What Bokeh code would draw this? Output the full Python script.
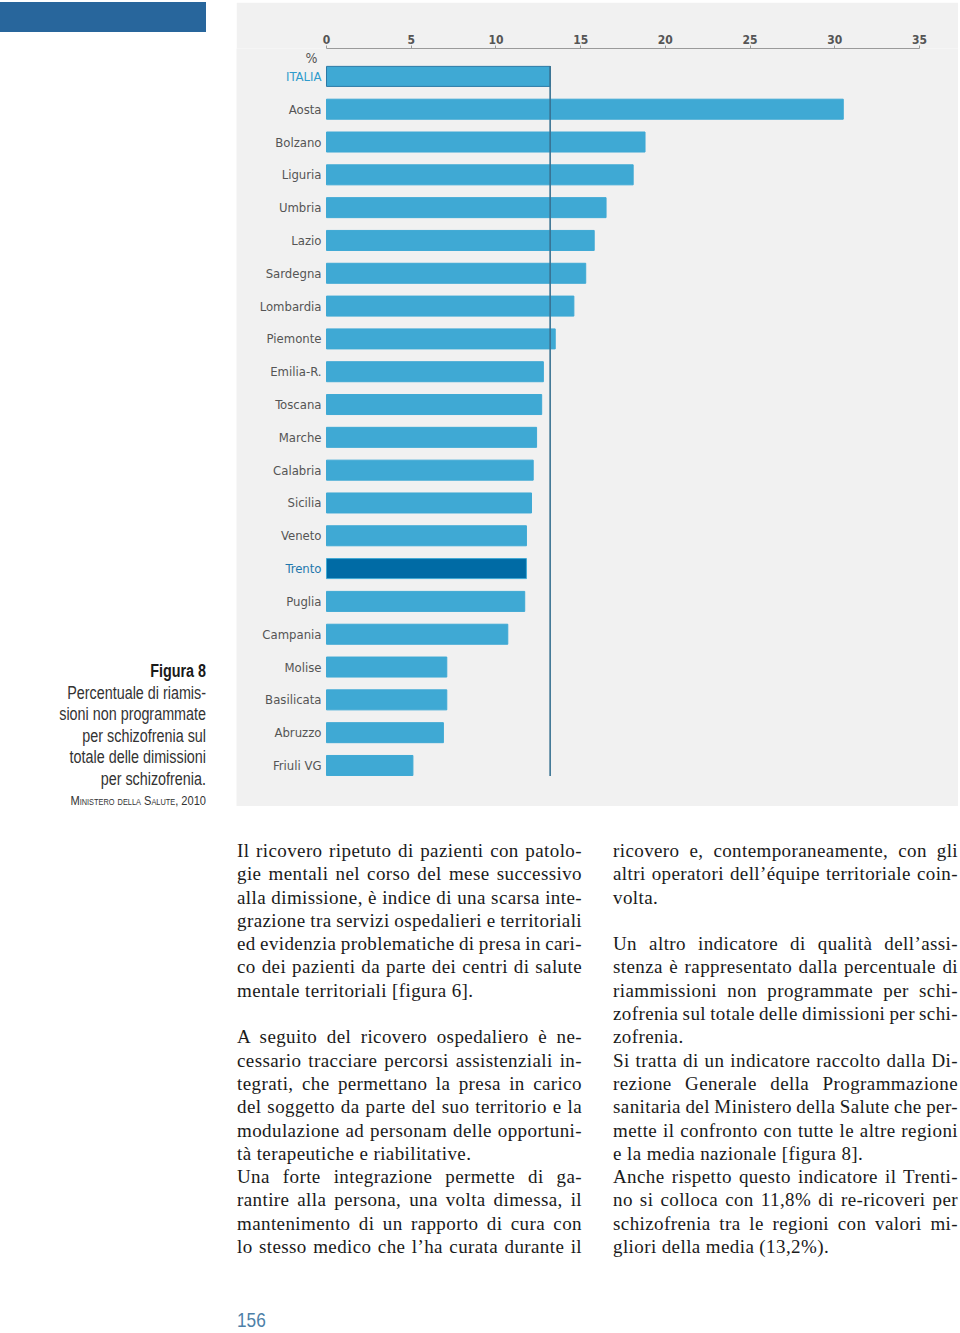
from bokeh.plotting import figure
from bokeh.models import (Range1d, LinearAxis, FixedTicker, Label, Div,
                          ColumnDataSource, GlobalInlineStyleSheet)
from bokeh.layouts import row, column
from bokeh.core.properties import value
from bokeh.embed import file_html
from bokeh.resources import INLINE

# ---------------- data ----------------
regions = ["ITALIA", "Aosta", "Bolzano", "Liguria", "Umbria", "Lazio", "Sardegna",
           "Lombardia", "Piemonte", "Emilia-R.", "Toscana", "Marche", "Calabria",
           "Sicilia", "Veneto", "Trento", "Puglia", "Campania", "Molise",
           "Basilicata", "Abruzzo", "Friuli VG"]
values = [13.2, 30.5, 18.8, 18.1, 16.5, 15.8, 15.3, 14.6, 13.5, 12.8, 12.7, 12.4,
          12.2, 12.1, 11.8, 11.8, 11.7, 10.7, 7.1, 7.1, 6.9, 5.1]
tick_values = [0, 5, 10, 15, 20, 25, 30, 35]
national = "ITALIA"
highlight = "Trento"

caption_title = "Figura 8"
caption_lines = ["Percentuale di riamis-", "sioni non programmate",
                 "per schizofrenia sul", "totale delle dimissioni",
                 "per schizofrenia."]
caption_source = "Ministero della Salute, 2010"
page_number = "156"

left_col = [
    ["Il ricovero ripetuto di pazienti con patolo-",
     "gie mentali nel corso del mese successivo",
     "alla dimissione, è indice di una scarsa inte-",
     "grazione tra servizi ospedalieri e territoriali",
     "ed evidenzia problematiche di presa in cari-",
     "co dei pazienti da parte dei centri di salute",
     "mentale territoriali [figura 6]."],
    None,
    ["A seguito del ricovero ospedaliero è ne-",
     "cessario tracciare percorsi assistenziali in-",
     "tegrati, che permettano la presa in carico",
     "del soggetto da parte del suo territorio e la",
     "modulazione ad personam delle opportuni-",
     "tà terapeutiche e riabilitative."],
    ["Una forte integrazione permette di ga-",
     "rantire alla persona, una volta dimessa, il",
     "mantenimento di un rapporto di cura con",
     "lo stesso medico che l’ha curata durante il "],
]
right_col = [
    ["ricovero e, contemporaneamente, con gli",
     "altri operatori dell’équipe territoriale coin-",
     "volta."],
    None,
    ["Un altro indicatore di qualità dell’assi-",
     "stenza è rappresentato dalla percentuale di",
     "riammissioni non programmate per schi-",
     "zofrenia sul totale delle dimissioni per schi-",
     "zofrenia."],
    ["Si tratta di un indicatore raccolto dalla Di-",
     "rezione Generale della Programmazione",
     "sanitaria del Ministero della Salute che per-",
     "mette il confronto con tutte le altre regioni",
     "e la media nazionale [figura 8]."],
    ["Anche rispetto questo indicatore il Trenti-",
     "no si colloca con 11,8% di re-ricoveri per",
     "schizofrenia tra le regioni con valori mi-",
     "gliori della media (13,2%)."],
]

# ---------------- styles ----------------
COND = "'DejaVu Sans Condensed', 'Liberation Sans Narrow', 'Roboto Condensed', 'Liberation Sans', sans-serif"
PANEL = "#f1f1f1"
BAR = "#3fa9d4"
BAR_HI = "#006ba5"
LABEL = "#555555"

idx = list(range(len(regions)))
italia_val = values[regions.index(national)]
bar_colors = [BAR_HI if r == highlight else BAR for r in regions]
label_colors = ["#2f9bcc" if r == national else ("#1f78ad" if r == highlight else LABEL)
                for r in regions]
line_colors = ["#2b79a6" if r == national else BAR for r in regions]

src = ColumnDataSource(dict(y=idx, v=values, name=regions, c=bar_colors,
                            lc=label_colors, oc=line_colors, zero=[0] * len(idx)))

s = 593 / 35.0
x0 = -90 / s
p = figure(width=722, height=804, output_backend="svg", toolbar_location=None,
           x_range=Range1d(x0, x0 + 722 / s),
           y_range=Range1d(len(regions) - 1 + 1.25, -0.85),
           x_axis_location=None, y_axis_location=None,
           min_border_left=0, min_border_right=0, min_border_bottom=0,
           min_border_top=46, outline_line_color=None,
           background_fill_color=PANEL, border_fill_color=PANEL)
p.grid.visible = False

ax = LinearAxis(ticker=FixedTicker(ticks=tick_values), bounds=(0, 35),
                axis_line_color="#9a9a9a", axis_line_width=1,
                major_tick_line_color="#9a9a9a", major_tick_out=3, major_tick_in=0,
                minor_tick_out=0, minor_tick_in=0,
                major_label_standoff=2,
                major_label_text_font=COND, major_label_text_font_size="12px",
                major_label_text_font_style="bold", major_label_text_color=LABEL)
p.add_layout(ax, "above")

p.hbar(y="y", left="zero", right="v", height=0.61, fill_color="c",
       line_color="oc", line_width=1, source=src)
p.segment(x0=italia_val, y0=-0.32, x1=italia_val, y1=len(regions) - 1 + 0.32,
          line_color="#3a7392", line_width=1.6)
p.text(x="zero", y="y", text="name", x_offset=-5, text_align="right",
       text_baseline="middle", text_font=value(COND), text_font_size="13px",
       text_color="lc", source=src)
p.add_layout(Label(x=0, y=-0.85, x_offset=-15, y_offset=-1, text="%",
                   text_align="center", text_baseline="top",
                   text_font="DejaVu Sans Condensed", text_font_size="14px",
                   text_color=LABEL))

# ---------------- left caption ----------------
SANS_CSS = '"Liberation Sans",Arial,sans-serif'
cap_html = (
    f"<div style='position:relative;width:236px;height:804px;font-family:{SANS_CSS};'>"
    f"<div style='position:absolute;left:0;top:0;width:206px;height:30px;background:#28669c;'></div>"
    f"<div style='position:absolute;right:30px;top:659px;text-align:right;line-height:21.5px;"
    f"font-size:17.5px;color:#333;white-space:nowrap;transform:scaleX(0.82);"
    f"transform-origin:right top;'>"
    f"<div style='font-weight:bold;color:#1a1a1a;'>{caption_title}</div>"
    + "".join(f"<div>{l}</div>" for l in caption_lines)
    + f"<div style='font-variant:small-caps;font-size:13.5px;'>{caption_source}</div>"
    "</div></div>")
cap = Div(text=cap_html, width=236, height=804, margin=0)


def col_html(paras, left):
    out = [f"<div style='position:absolute;left:{left}px;top:33px;width:345px;"
           "font-family:\"Liberation Serif\",serif;font-size:19px;letter-spacing:0.4px;"
           "color:#1a1a1a;line-height:23.3px;'>"]
    for para in paras:
        if para is None:
            out.append("<div style='height:23.3px'></div>")
            continue
        for i, ln in enumerate(para):
            last = (i == len(para) - 1) and not ln.endswith(" ")
            al = "left" if last else "justify"
            ws = "0" if last else "-1.5px"
            out.append(f"<div style='height:23.3px;white-space:nowrap;text-align:{al};"
                       f"text-align-last:{al};word-spacing:{ws};'>{ln.strip()}</div>")
    out.append("</div>")
    return "".join(out)


body_html = ("<div style='position:relative;width:960px;height:527px;'>"
             + col_html(left_col, 237) + col_html(right_col, 613)
             + f"<div style='position:absolute;left:237px;top:502px;font-family:{SANS_CSS};"
               f"font-size:21px;color:#4d7fa8;line-height:24px;transform:scaleX(0.82);"
               f"transform-origin:left top;'>{page_number}</div>"
             + "</div>")
body = Div(text=body_html, width=960, height=527, margin=0)

top = row(cap, p, spacing=0)
page = column(top, body, spacing=0,
              styles={"margin-top": "2px"},
              stylesheets=[GlobalInlineStyleSheet(css="body{margin:0 !important;}")])

open("out.html", "w").write(file_html(page, INLINE))
